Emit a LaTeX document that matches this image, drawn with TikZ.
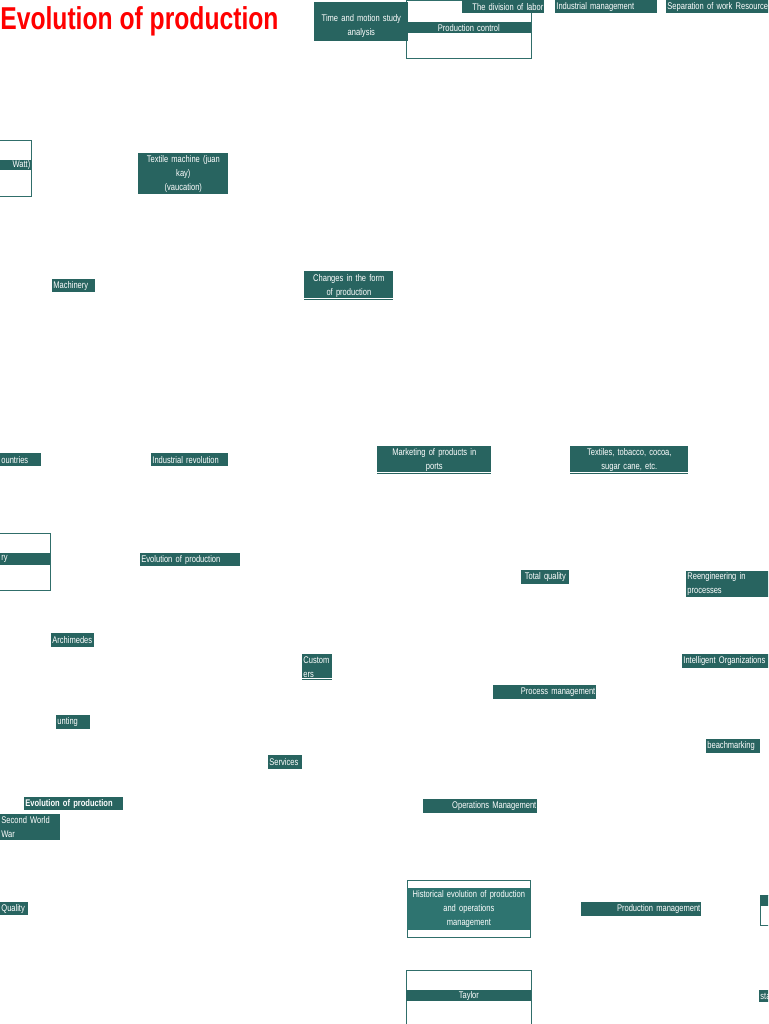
\documentclass[tikz,border=0pt]{standalone}
\usepackage{fontspec}
\newfontfamily\narrowfont[FakeStretch=0.78]{Liberation Sans}
\definecolor{tagteal}{RGB}{40,100,96}
\definecolor{histteal}{RGB}{46,116,112}
\definecolor{frameteal}{RGB}{48,110,106}
\definecolor{titlered}{RGB}{255,0,0}
\tikzset{
	tagbox/.style 2 args={fill=tagteal, text=white, anchor=north west, align=left,
		font=\narrowfont\fontsize{5.5}{7.9}\selectfont, inner xsep=0.6pt, inner ysep=0pt,
		/utils/exec={\pgfmathsetlengthmacro\tagwd{#1*0.02cm-1.2pt}%
			\pgfmathsetlengthmacro\taght{#2*0.02cm}},
		text width=\tagwd, minimum height=\taght},
	framebox/.style 2 args={draw=frameteal, line width=0.6pt, fill=white, anchor=north west,
		inner sep=0pt,
		/utils/exec={\pgfmathsetlengthmacro\frwd{#1*0.02cm}%
			\pgfmathsetlengthmacro\frht{#2*0.02cm}},
		minimum width=\frwd, minimum height=\frht},
	boldtag/.style={font=\narrowfont\bfseries\fontsize{5.5}{7.9}\selectfont},
	underline/.style={draw=white, line width=0.6pt},
}
\begin{document}
\begin{tikzpicture}[x=0.02cm, y=-0.02cm]
\useasboundingbox (0,0) rectangle (768,1024);
\clip (0,0) rectangle (768,1024);

% title
\node[anchor=base west, inner sep=0pt, text=titlered,
	font=\narrowfont\bfseries\fontsize{18}{20}\selectfont] (title) at (0,30) {Evolution of production};

% top row
\node[framebox={125}{58}] (ctrlbox) at (406,0) {};
\node[tagbox={125}{11}, align=center] (ctrl) at (406,22) {Production control};
\node[tagbox={94}{39}, align=center] (motion) at (314,2) {\rule{0pt}{9pt}Time and motion study\\analysis};
\node[tagbox={82}{13}, align=right] (labor) at (462,0) {The division of labor};
\node[tagbox={102}{13}] (indmgmt) at (555,0) {Industrial management};
\node[tagbox={110}{13}] (sepwork) at (666,0) {Separation of work Resource};

% machines
\node[framebox={51}{56}] (wattbox) at (-20,140) {};
\node[tagbox={51}{10}, align=right] (watt) at (-20,160) {Watt)};
\node[tagbox={90}{41}, align=center] (textile) at (138,153) {Textile machine (juan\\kay)\\(vaucation)};
\node[tagbox={43}{13}] (machinery) at (52,279) {Machinery};
\node[tagbox={89}{29}, align=center] (changes) at (304,271) {Changes in the form\\of production};
\draw[underline] ([yshift=1.2pt]changes.south west) -- ([yshift=1.2pt]changes.south east);

% trade
\node[tagbox={41}{13}] (countries) at (0,453) {ountries};
\node[tagbox={77}{13}] (indrev) at (151,453) {Industrial revolution};
\node[tagbox={114}{28}, align=center] (ports) at (377,446) {Marketing of products in\\ports};
\draw[underline] ([yshift=1.2pt]ports.south west) -- ([yshift=1.2pt]ports.south east);
\node[tagbox={118}{28}, align=center] (crops) at (570,446) {Textiles, tobacco, cocoa,\\sugar cane, etc.};
\draw[underline] ([yshift=1.2pt]crops.south west) -- ([yshift=1.2pt]crops.south east);

% middle
\node[framebox={70}{57}] (rybox) at (-20,533) {};
\node[tagbox={50}{12}] (ry) at (0,553) {ry};
\node[tagbox={100}{13}] (evolprod) at (140,553) {Evolution of production};
\node[tagbox={48}{14}, align=center] (totalq) at (521,570) {Total quality};
\node[tagbox={100}{26}] (reeng) at (686,571) {Reengineering in\\processes};
\node[tagbox={43}{14}] (archimedes) at (51,633) {Archimedes};
\node[tagbox={30}{26}] (customers) at (302,654) {Custom\\ers};
\draw[underline] ([yshift=1.2pt]customers.south west) -- ([yshift=1.2pt]customers.south east);
\node[tagbox={100}{14}] (intorg) at (682,654) {Intelligent Organizations};
\node[tagbox={103}{14}, align=right] (procmgmt) at (493,685) {Process management};
\node[tagbox={34}{14}] (accounting) at (56,715) {unting};
\node[tagbox={54}{14}] (bench) at (706,739) {beachmarking};
\node[tagbox={34}{14}] (services) at (268,755) {Services};
\node[tagbox={114}{14}, align=right] (opsmgmt) at (423,799) {Operations Management};

% bottom
\node[tagbox={99}{13}, boldtag] (evolbold) at (24,797) {Evolution of production};
\node[tagbox={60}{26}] (ww2) at (0,814) {Second World\\War};
\node[tagbox={28}{13}] (quality) at (0,902) {Quality};
\node[framebox={123}{57}] (histbox) at (407,880) {};
\node[tagbox={123}{42}, fill=histteal, align=center] (hist) at (407,888) {Historical evolution of production\\and operations\\management};
\node[tagbox={120}{14}, align=right] (prodmgmt) at (581,902) {Production management};
\node[framebox={40}{30}] (rbox) at (760,895) {};
\node[tagbox={40}{11}] (rband) at (760,895) {};
\node[framebox={125}{70}] (taylorbox) at (406,970) {};
\node[tagbox={125}{11}, align=center] (taylor) at (406,990) {Taylor};
\node[tagbox={20}{12}] (sta) at (759,990) {sta};

\end{tikzpicture}
\end{document}
